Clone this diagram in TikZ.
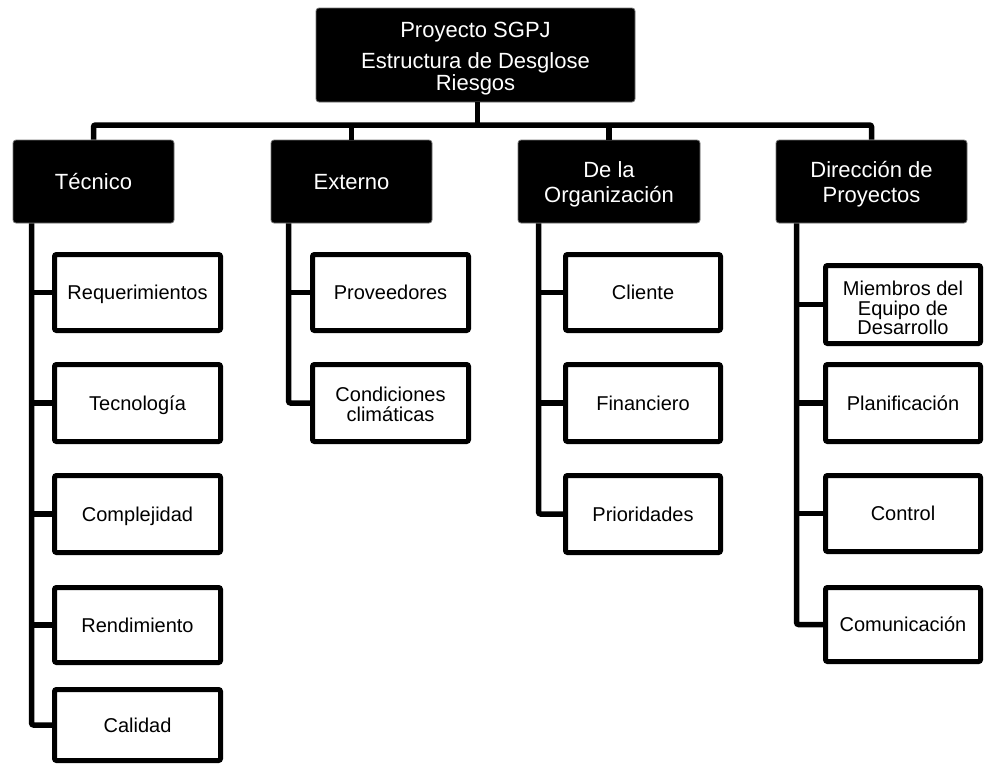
\documentclass[tikz,border=0pt]{standalone}
\usepackage{fontspec}
\setmainfont{Liberation Sans}
\usetikzlibrary{calc}

\tikzset{
  headbox/.style={fill=black, draw=black!55, line width=0.8pt, rounded corners=3pt,
    text=white, align=center, inner sep=0pt,
    font=\fontsize{22}{25}\selectfont},
  headone/.style={headbox, text height=16pt, text depth=0pt},
  leafbox/.style={fill=white, draw=black, line width=5pt, rounded corners=2pt,
    align=center, inner sep=0pt,
    font=\fontsize{20}{19.5}\selectfont},
  leafone/.style={leafbox, text height=14.6pt, text depth=0pt},
  conn/.style={draw=black, line width=5.5pt, rounded corners=2pt},
}

\begin{document}
\begin{tikzpicture}[x=1pt, y=-1pt]
\useasboundingbox (0,0) rectangle (984,766);

% root of the breakdown
\node[headbox, minimum width=319pt, minimum height=94pt] (root) at (475.5,55)
  {\rule{0pt}{22pt}Proyecto SGPJ\\[6pt]Estructura de Desglose\\[-3pt]Riesgos};

% risk categories
\node[headone, minimum width=161pt, minimum height=83pt] (tec) at (93.5,181.5) {Técnico};
\node[headone, minimum width=161pt, minimum height=83pt] (ext) at (351.5,181.5) {Externo};
\node[headbox, minimum width=182pt, minimum height=83pt] (org) at (609,181.5)
  {\rule{0pt}{22pt}De la\\Organización};
\node[headbox, minimum width=191pt, minimum height=83pt] (dir) at (871.5,181.5)
  {\rule{0pt}{22pt}Dirección de\\Proyectos};

% Técnico
\node[leafone, minimum width=166pt, minimum height=76pt] (req) at (137.5,292.5) {Requerimientos};
\node[leafone, minimum width=166pt, minimum height=77pt] (tecn) at (137.5,403) {Tecnología};
\node[leafone, minimum width=166pt, minimum height=77pt] (comp) at (137.5,514) {Complejidad};
\node[leafone, minimum width=166pt, minimum height=75pt] (rend) at (137.5,625) {Rendimiento};
\node[leafone, minimum width=166pt, minimum height=71pt] (cal) at (137.5,725) {Calidad};

% Externo
\node[leafone, minimum width=156pt, minimum height=76pt] (prov) at (390.5,292.5) {Proveedores};
\node[leafbox, minimum width=156pt, minimum height=77pt] (clim) at (390.5,403)
  {\rule{0pt}{17pt}Condiciones\\climáticas};

% De la Organización
\node[leafone, minimum width=155pt, minimum height=76pt] (cli) at (643,292.5) {Cliente};
\node[leafone, minimum width=155pt, minimum height=77pt] (fin) at (643,403) {Financiero};
\node[leafone, minimum width=155pt, minimum height=77pt] (prio) at (643,514) {Prioridades};

% Dirección de Proyectos
\node[leafbox, minimum width=155pt, minimum height=78pt] (miem) at (903,304.5)
  {\rule{0pt}{22pt}Miembros del\\Equipo de\\Desarrollo};
\node[leafone, minimum width=155pt, minimum height=77pt] (plan) at (903,403) {Planificación};
\node[leafone, minimum width=155pt, minimum height=76pt] (ctrl) at (903,513.5) {Control};
\node[leafone, minimum width=155pt, minimum height=74pt] (comu) at (903,624.5) {Comunicación};

% main bus
\coordinate (bus) at (0,125);
\draw[conn] ([xshift=2pt]root.south) -- ([xshift=2pt]root.south |- bus);
\draw[conn] (tec.north) -- (tec.north |- bus) -- (dir.north |- bus) -- (dir.north);
\draw[conn] (ext.north) -- (ext.north |- bus);
\draw[conn] (org.north) -- (org.north |- bus);

% Técnico branch
\coordinate (tv) at ([xshift=19pt]tec.south west);
\draw[conn] (tv) |- (cal.west);
\draw[conn] (tv |- req.west) -- (req.west);
\draw[conn] (tv |- tecn.west) -- (tecn.west);
\draw[conn] (tv |- comp.west) -- (comp.west);
\draw[conn] (tv |- rend.west) -- (rend.west);

% Externo branch
\coordinate (ev) at ([xshift=18pt]ext.south west);
\draw[conn] (ev) |- (clim.west);
\draw[conn] (ev |- prov.west) -- (prov.west);

% De la Organización branch
\coordinate (ov) at ([xshift=21pt]org.south west);
\draw[conn] (ov) |- (prio.west);
\draw[conn] (ov |- cli.west) -- (cli.west);
\draw[conn] (ov |- fin.west) -- (fin.west);

% Dirección de Proyectos branch
\coordinate (dv) at ([xshift=21pt]dir.south west);
\draw[conn] (dv) |- (comu.west);
\draw[conn] (dv |- miem.west) -- (miem.west);
\draw[conn] (dv |- plan.west) -- (plan.west);
\draw[conn] (dv |- ctrl.west) -- (ctrl.west);
\end{tikzpicture}
\end{document}
